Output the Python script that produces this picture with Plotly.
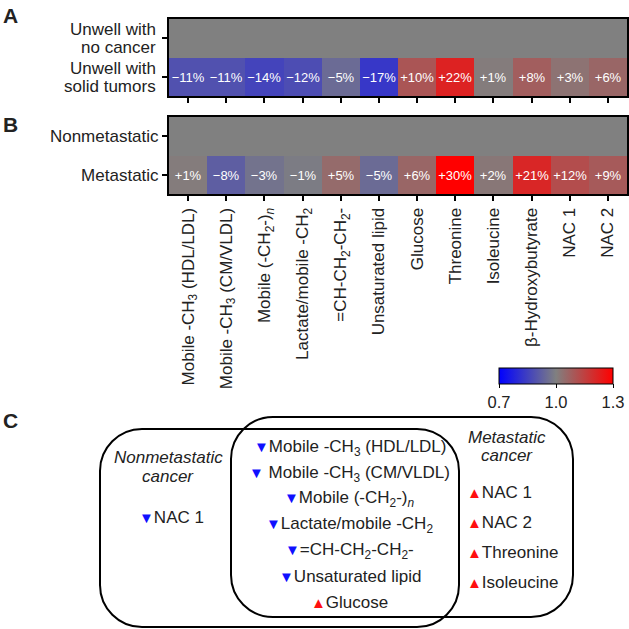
import plotly.graph_objects as go

W = H = 629
FONT = "Arial, 'Liberation Sans', Helvetica, sans-serif"

metabolites = [
    "Mobile -CH<sub>3</sub> (HDL/LDL)",
    "Mobile -CH<sub>3</sub> (CM/VLDL)",
    "Mobile (-CH<sub>2</sub>-)<sub><i>n</i></sub>",
    "Lactate/mobile -CH<sub>2</sub>",
    "=CH-CH<sub>2</sub>-CH<sub>2</sub>-",
    "Unsaturated lipid",
    "Glucose",
    "Threonine",
    "Isoleucine",
    "β-Hydroxybutyrate",
    "NAC 1",
    "NAC 2",
]
rows_a = ["Unwell with solid tumors", "Unwell with no cancer"]
rows_a_lines = [["Unwell with", "solid tumors"], ["Unwell with", "no cancer"]]
rows_b = ["Metastatic", "Nonmetastatic"]

# percent change relative to reference group
pct_solid_tumors = [-11, -11, -14, -12, -5, -17, 10, 22, 1, 8, 3, 6]
pct_metastatic = [1, -8, -3, -1, 5, -5, 6, 30, 2, 21, 12, 9]

shared_list = [
    ("down", "Mobile -CH<sub>3</sub> (HDL/LDL)"),
    ("down", " Mobile -CH<sub>3</sub> (CM/VLDL)"),
    ("down", "Mobile (-CH<sub>2</sub>-)<sub><i>n</i></sub>"),
    ("down", "Lactate/mobile -CH<sub>2</sub>"),
    ("down", "=CH-CH<sub>2</sub>-CH<sub>2</sub>-"),
    ("down", "Unsaturated lipid"),
    ("up", "Glucose"),
]
nonmet_list = [("down", "NAC 1")]
met_list = [("up", "NAC 1"), ("up", "NAC 2"), ("up", "Threonine"), ("up", "Isoleucine")]

colorscale = [[0, "rgb(0,0,255)"], [0.5, "rgb(128,128,128)"], [1, "rgb(255,0,0)"]]


def fmt(p):
    return ("+%d%%" % p) if p >= 0 else ("\u2212%d%%" % abs(p))


def X(px):
    return px / W


def Y(py):
    return 1 - py / H


fig = go.Figure()

for i, (pct, rows) in enumerate([(pct_solid_tumors, rows_a), (pct_metastatic, rows_b)]):
    z = [[1 + p / 100 for p in pct], [1.0] * len(pct)]
    txt = [[fmt(p) for p in pct], [""] * len(pct)]
    fig.add_trace(go.Heatmap(
        x=metabolites, y=rows, z=z, text=txt, texttemplate="%{text}",
        textfont=dict(color="white", size=13, family=FONT),
        colorscale=colorscale, zmin=0.7, zmax=1.3,
        xaxis="x" if i == 0 else "x2", yaxis="y" if i == 0 else "y2",
        showscale=(i == 1), hoverinfo="skip",
        colorbar=dict(orientation="h", x=X(499), xanchor="left", y=Y(368), yanchor="top",
                      len=114, lenmode="pixels", thickness=16, outlinecolor="black", outlinewidth=1,
                      xpad=0, ypad=0,
                      tickvals=[0.7, 1.0, 1.3], ticktext=["0.7", "1.0", "1.3"], ticks="outside",
                      ticklen=4, tickcolor="black",
                      tickfont=dict(size=16.5, family=FONT, color="#222")),
    ))

axcommon = dict(showline=True, linewidth=2, linecolor="black", mirror=True, ticks="outside",
                ticklen=5, tickwidth=1.5, tickcolor="black", showgrid=False, zeroline=False,
                tickfont=dict(size=17, family=FONT, color="#222"))

fig.update_layout(
    width=W, height=H, margin=dict(l=0, r=0, t=0, b=0),
    paper_bgcolor="white", plot_bgcolor="white", showlegend=False,
    font=dict(family=FONT, color="#222"),
    xaxis=dict(domain=[X(169), X(627)], anchor="y", showticklabels=False, **axcommon),
    yaxis=dict(domain=[Y(96), Y(19)], anchor="x", showticklabels=False, **axcommon),
    xaxis2=dict(domain=[X(169), X(627)], anchor="y2", tickangle=-90, **axcommon),
    yaxis2=dict(domain=[Y(194), Y(117)], anchor="x2", **axcommon),
)

ann = []
for lab, py in [("A", 15), ("B", 125), ("C", 420)]:
    ann.append(dict(text="<b>%s</b>" % lab, x=X(1), y=Y(py), xref="paper", yref="paper",
                    xanchor="left", yanchor="middle", showarrow=False,
                    font=dict(size=21, family=FONT, color="#222")))

# y labels of panel A, placed line by line next to their rows
row_centers_a = [77, 38.5]
for lines, cy in zip(rows_a_lines, row_centers_a):
    for j, ln in enumerate(lines):
        ann.append(dict(text=ln, x=X(158), y=Y(cy - 9 + 18 * j), xref="paper", yref="paper",
                        xanchor="right", yanchor="middle", showarrow=False,
                        font=dict(size=17, family=FONT, color="#222")))


def tri(d):
    if d == "down":
        return "<span style='color:#1010ff;font-size:15px'>\u25bc</span>"
    return "<span style='color:#ff1010;font-size:15px'>\u25b2</span>"


def addtext(t, px, py, anchor="center", italic=False, size=17):
    ann.append(dict(text=("<i>%s</i>" % t) if italic else t, x=X(px), y=Y(py), xref="paper",
                    yref="paper", xanchor=anchor, yanchor="middle", showarrow=False,
                    font=dict(size=size, family=FONT, color="#222")))


addtext("Nonmetastatic", 168, 457, italic=True)
addtext("cancer", 168, 476, italic=True)
addtext("Metastatic", 507, 437, italic=True)
addtext("cancer", 507, 455, italic=True)
for k, (d, t) in enumerate(nonmet_list):
    addtext(tri(d) + t, 137, 517, anchor="left")
for k, (d, t) in enumerate(shared_list):
    addtext(tri(d) + t, 350, 448 + k * 25.7)
for k, (d, t) in enumerate(met_list):
    addtext(tri(d) + t, 465, 492 + k * 30, anchor="left")


def rrect(x0, y0, x1, y1, r):
    k = 0.5523 * r
    pts = [
        ("M", [(x0 + r, y0)]), ("L", [(x1 - r, y0)]),
        ("C", [(x1 - r + k, y0), (x1, y0 + r - k), (x1, y0 + r)]), ("L", [(x1, y1 - r)]),
        ("C", [(x1, y1 - r + k), (x1 - r + k, y1), (x1 - r, y1)]), ("L", [(x0 + r, y1)]),
        ("C", [(x0 + r - k, y1), (x0, y1 - r + k), (x0, y1 - r)]), ("L", [(x0, y0 + r)]),
        ("C", [(x0, y0 + r - k), (x0 + r - k, y0), (x0 + r, y0)]),
    ]
    s = ""
    for cmd, ps in pts:
        s += cmd + " " + " ".join("%.5f,%.5f" % (X(a), Y(b)) for a, b in ps) + " "
    return s + "Z"


shapes = [
    dict(type="path", path=rrect(100, 429, 459, 627, 42), xref="paper", yref="paper",
         line=dict(color="black", width=2)),
    dict(type="path", path=rrect(231, 417, 573, 617, 42), xref="paper", yref="paper",
         line=dict(color="black", width=2)),
]

fig.update_layout(annotations=ann, shapes=shapes)
fig.write_html(
    "out.html",
    config={"displayModeBar": False},
    post_script="document.body.style.margin='0';document.body.style.overflow='hidden';",
)
